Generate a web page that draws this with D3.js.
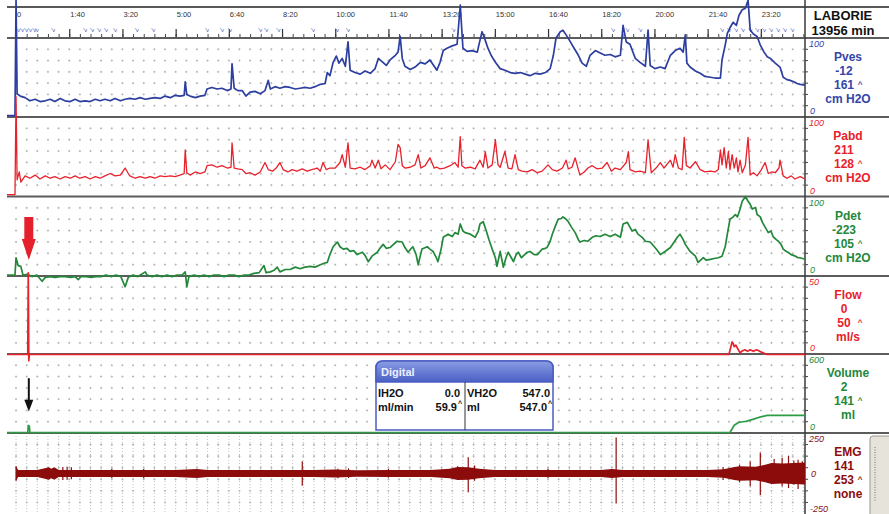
<!DOCTYPE html>
<html>
<head>
<meta charset="utf-8">
<script src="https://cdnjs.cloudflare.com/ajax/libs/d3/7.8.5/d3.min.js"></script>
<style>
  body { margin: 0; background: #fff; }
  svg { display: block; }
  text { font-family: "Liberation Sans", Arial, sans-serif; }
</style>
</head>
<body>
<svg id="chart" width="889" height="514"></svg>
<script>
// ---- data (time in s, values in channel units) ----
const timeTicks = [0, 100, 200, 300, 400, 500, 600, 700, 800, 900, 1000, 1100, 1200, 1300, 1400];
const timeTickLabels = ["0", "1:40", "3:20", "5:00", "6:40", "8:20", "10:00", "11:40", "13:20", "15:00", "16:40", "18:20", "20:00", "21:40", "23:20"];
const eventTimes = [4, 11, 19, 26, 34, 39, 70, 130, 143, 156, 169, 186, 227, 258, 359, 387, 402, 459, 470, 493, 558, 603, 624, 822, 1122, 1149, 1173, 1327, 1340, 1353, 1366, 1380, 1393, 1406, 1419, 1432, 1445, 1459];

const channelNames = ["Pves", "Pabd", "Pdet", "Flow", "Volume", "EMG"];
const channelNow = ["-12", "211", "-223", "0", "2", "141"];
const channelMax = ["161", "128", "105", "50", "141", "253"];
const channelUnits = ["cm H2O", "cm H2O", "cm H2O", "ml/s", "ml", "none"];
const scaleLow = [0, 0, 0, 0, 0, -250];
const scaleHigh = [100, 100, 100, 50, 600, 250];

const pves = [[-17,1],[-2,1],[0,148],[2,29],[8,26],[17,24],[26,20],[36,22],[45,19],[55,20],[64,22],[73,19],[83,23],[92,20],[102,19],[111,22],[120,19],[130,20],[139,19],[149,22],[158,20],[167,22],[177,20],[186,23],[196,20],[205,22],[214,23],[224,22],[233,24],[243,22],[252,23],[261,24],[271,23],[280,26],[290,24],[299,27],[308,26],[316,27],[318,44],[321,28],[327,26],[337,24],[346,26],[355,27],[359,35],[368,37],[378,35],[387,36],[397,33],[404,35],[406,67],[410,36],[417,33],[425,33],[432,26],[440,31],[449,32],[459,29],[468,33],[474,46],[478,35],[487,38],[496,36],[506,38],[515,37],[525,35],[534,36],[543,37],[553,36],[562,38],[572,41],[581,42],[585,56],[590,52],[596,69],[602,77],[607,68],[613,74],[619,64],[624,95],[628,59],[637,56],[647,54],[656,58],[666,55],[675,61],[681,74],[688,70],[696,65],[703,72],[713,78],[718,82],[722,102],[726,74],[731,64],[741,60],[750,63],[760,69],[769,67],[778,72],[786,64],[791,59],[797,69],[803,84],[810,87],[820,90],[829,92],[835,142],[840,87],[848,83],[857,84],[867,82],[872,97],[876,108],[882,97],[887,87],[893,78],[901,69],[910,61],[919,59],[929,56],[938,55],[948,56],[957,54],[966,52],[976,55],[985,54],[995,56],[1004,61],[1010,78],[1015,100],[1023,108],[1028,110],[1034,104],[1042,95],[1049,87],[1057,78],[1064,68],[1072,64],[1079,78],[1089,84],[1098,81],[1107,78],[1117,79],[1126,76],[1136,78],[1141,116],[1147,95],[1154,92],[1164,74],[1173,69],[1183,64],[1188,110],[1192,65],[1201,61],[1211,63],[1220,61],[1230,78],[1239,84],[1248,87],[1254,82],[1258,104],[1261,68],[1267,63],[1277,58],[1286,55],[1295,51],[1305,50],[1314,49],[1324,49],[1327,72],[1333,91],[1337,106],[1342,113],[1348,120],[1354,116],[1359,129],[1365,136],[1371,138],[1376,148],[1380,110],[1386,105],[1393,102],[1399,91],[1406,82],[1412,76],[1418,74],[1427,68],[1436,63],[1442,50],[1449,47],[1455,46],[1463,44],[1468,42],[1474,41],[1483,40]];

const pabd = [[-17,1],[-2,1],[0,126],[2,20],[6,30],[9,17],[17,25],[26,22],[36,26],[45,21],[55,25],[64,22],[73,24],[83,21],[92,24],[102,22],[111,25],[120,22],[130,24],[139,21],[149,24],[158,22],[167,25],[177,28],[186,25],[196,26],[205,35],[211,28],[214,25],[224,22],[233,24],[243,22],[252,24],[261,22],[271,25],[280,24],[290,25],[299,24],[308,26],[316,28],[318,58],[321,29],[327,26],[337,30],[346,28],[355,30],[359,38],[368,39],[378,36],[387,38],[397,35],[404,36],[406,67],[410,35],[417,34],[425,33],[432,28],[440,29],[449,26],[459,30],[468,42],[474,33],[482,31],[489,35],[496,42],[502,33],[511,30],[519,33],[528,31],[538,34],[547,31],[556,33],[566,35],[572,31],[577,42],[583,33],[590,35],[600,35],[609,42],[613,52],[619,36],[624,67],[628,35],[637,34],[647,36],[656,33],[666,38],[669,45],[675,35],[681,45],[686,34],[694,39],[703,33],[713,43],[718,65],[722,61],[726,38],[731,35],[741,36],[750,39],[756,52],[761,35],[769,38],[778,48],[786,35],[791,36],[797,34],[805,35],[816,38],[825,42],[831,36],[835,75],[838,38],[844,35],[854,36],[863,34],[872,45],[878,36],[882,56],[887,35],[895,39],[901,71],[906,39],[910,36],[919,56],[925,35],[932,34],[938,52],[944,33],[951,31],[961,30],[970,33],[980,29],[989,31],[1000,39],[1008,33],[1017,31],[1027,35],[1034,45],[1038,34],[1045,36],[1051,48],[1057,33],[1060,26],[1068,30],[1075,35],[1083,38],[1092,34],[1102,35],[1111,42],[1119,31],[1126,35],[1136,33],[1147,42],[1151,56],[1154,33],[1164,30],[1173,31],[1183,29],[1188,71],[1194,29],[1203,35],[1211,42],[1218,35],[1230,45],[1235,36],[1239,52],[1245,35],[1252,33],[1256,74],[1260,38],[1267,35],[1277,43],[1286,33],[1295,30],[1305,31],[1314,30],[1320,33],[1324,58],[1327,39],[1331,61],[1335,35],[1339,56],[1342,33],[1346,52],[1350,35],[1354,48],[1357,30],[1361,45],[1365,29],[1371,39],[1376,74],[1380,26],[1386,29],[1393,25],[1401,33],[1408,42],[1414,28],[1421,30],[1427,29],[1434,35],[1436,45],[1442,25],[1449,22],[1457,25],[1464,21],[1474,24],[1483,21]];

const pdet = [[-17,0],[-2,0],[0,22],[4,12],[9,11],[13,0],[21,1],[30,-2],[39,0],[49,-8],[55,-3],[64,-2],[73,-3],[83,-2],[92,-2],[102,-3],[111,-2],[117,-6],[122,-2],[132,-2],[141,-3],[150,-2],[160,-2],[169,0],[179,-2],[188,0],[197,-2],[205,-15],[211,-3],[220,0],[229,-2],[243,4],[246,0],[256,-2],[265,0],[274,-2],[284,0],[293,-2],[303,0],[312,0],[318,4],[321,-15],[325,-2],[335,0],[344,-2],[353,0],[363,-2],[372,0],[382,0],[391,-2],[400,0],[410,0],[419,-2],[429,0],[438,0],[447,2],[457,3],[466,12],[470,3],[478,4],[485,6],[491,10],[496,4],[506,7],[515,7],[525,10],[534,8],[543,10],[553,11],[562,10],[572,13],[579,15],[585,16],[590,26],[596,36],[604,42],[609,36],[615,33],[622,34],[628,30],[635,31],[641,26],[651,29],[656,25],[662,17],[669,24],[679,29],[684,34],[690,39],[696,34],[703,35],[711,40],[716,43],[726,42],[731,35],[737,29],[743,34],[746,36],[752,26],[756,13],[760,25],[763,33],[773,36],[778,33],[784,30],[790,22],[793,17],[799,33],[803,48],[812,52],[820,49],[825,54],[831,52],[835,65],[840,56],[844,54],[854,52],[863,48],[869,56],[872,65],[878,68],[884,56],[889,45],[895,33],[901,22],[904,11],[910,30],[916,10],[921,22],[925,29],[931,22],[935,17],[940,26],[944,29],[950,22],[953,24],[961,29],[966,30],[974,26],[980,26],[985,30],[989,33],[995,34],[998,35],[1004,43],[1008,52],[1013,61],[1019,71],[1025,72],[1028,74],[1034,71],[1038,68],[1044,61],[1051,54],[1057,45],[1060,42],[1068,44],[1075,43],[1083,48],[1090,50],[1098,49],[1107,52],[1117,49],[1126,52],[1136,48],[1141,65],[1149,67],[1158,56],[1164,58],[1169,52],[1177,48],[1183,43],[1192,42],[1201,35],[1207,30],[1211,26],[1220,30],[1230,35],[1237,42],[1243,48],[1248,52],[1254,45],[1258,39],[1267,30],[1277,24],[1282,16],[1292,22],[1297,19],[1305,20],[1312,21],[1320,22],[1327,24],[1333,36],[1337,52],[1342,71],[1348,74],[1352,77],[1356,74],[1361,84],[1365,94],[1371,100],[1376,94],[1380,90],[1384,84],[1390,86],[1393,77],[1399,74],[1403,67],[1408,61],[1414,54],[1419,56],[1423,49],[1429,45],[1433,43],[1438,39],[1442,33],[1448,30],[1451,29],[1457,26],[1465,24],[1470,22],[1474,22],[1483,20]];

const flow = [[-17,0],[22,0],[23,52],[24,-4],[25,0],[1340,0],[1346,8],[1348,7],[1350,5],[1353,6],[1356,4],[1361,1],[1364,2],[1370,3],[1375,2],[1380,3],[1386,2],[1392,3],[1398,2],[1405,1],[1412,0],[1483,0]];

const volume = [[-17,0],[22,0],[23,54],[25,50],[26,0],[1342,0],[1350,55],[1358,77],[1366,82],[1372,85],[1385,100],[1400,120],[1412,131],[1483,131]];

const emgTime = [0, 4, 40, 62, 66, 72, 80, 200, 300, 340, 360, 440, 560, 600, 640, 700, 780, 815, 830, 850, 870, 900, 1000, 1100, 1120, 1140, 1200, 1300, 1330, 1350, 1360, 1390, 1410, 1420, 1440, 1483];
const emgAmp  = [45, 22, 22, 38, 30, 38, 22, 22, 22, 28, 22, 22, 22, 25, 20, 22, 22, 30, 40, 38, 30, 22, 22, 22, 28, 22, 22, 22, 26, 40, 45, 42, 55, 65, 62, 68];
const emgSpikes = [[0,45,-45],[88,40,-40],[96,42,-38],[104,38,-36],[180,30,-28],[240,28,-30],[538,75,-75],[605,30,-30],[625,32,-28],[700,28,-26],[830,45,-40],[850,100,-115],[862,50,-45],[1000,30,-28],[1128,222,-185],[1329,40,-40],[1360,55,-55],[1380,75,-80],[1399,130,-135],[1425,90,-60],[1440,95,-80],[1452,110,-90],[1462,80,-70],[1470,85,-95],[1478,75,-60]];

// ---- layout / style ----
const svg = d3.select("#chart");
const plotLeft = 7, plotRight = 805;
const bandTops = [38, 117, 196.5, 276, 354, 433];
const bandHeights = [79, 79.5, 79.5, 78, 79, 81];
const traceColors = ["#2c3e9f", "#e8212b", "#23883a", "#e8212b", "#2f9c45", "#8c0c0c"];
const textColors = ["#3545a8", "#e8212b", "#23883a", "#e8212b", "#23883a", "#8c0c0c"];

const x = d3.scaleLinear().domain([-17, 1483]).range([plotLeft, plotRight]);
const ys = bandTops.map((top, i) => d3.scaleLinear()
  .domain([scaleLow[i], scaleHigh[i]])
  .range(i === 5 ? [top + 81, top] : [top + 78.5, top]));

svg.append("rect").attr("width", 889).attr("height", 514).attr("fill", "#fff");

// grid dots
const gridCols = d3.range(0, 1481, 20);
const gp = d3.path();
bandTops.forEach((top, i) => {
  for (let k = 1; k < 7; k++) {
    const yy = top + k * bandHeights[i] / 7;
    gridCols.forEach(t => {
      const xx = x(t);
      gp.moveTo(xx - 1, yy); gp.lineTo(xx + 1, yy);
      gp.moveTo(xx, yy - 1); gp.lineTo(xx, yy + 1);
    });
  }
});
svg.append("path").attr("d", gp.toString()).attr("stroke", "#b4b4b4").attr("stroke-width", 1).attr("fill", "none");

// EMG dotted verticals
svg.append("g").selectAll("line").data(gridCols).join("line")
  .attr("x1", d => x(d)).attr("x2", d => x(d))
  .attr("y1", bandTops[5] + 3).attr("y2", 514)
  .attr("stroke", "#c2c2c2").attr("stroke-dasharray", "1,2");

// time band
svg.append("line").attr("x1", plotLeft).attr("x2", 889).attr("y1", 7).attr("y2", 7)
  .attr("stroke", "#222").attr("stroke-width", 1.5);

const minorAxis = svg.append("g").attr("transform", "translate(0,38)")
  .call(d3.axisTop(x).tickValues(gridCols).tickSize(4).tickFormat(""));
minorAxis.select(".domain").remove();
minorAxis.selectAll("line").attr("stroke", "#444");

const majorAxis = svg.append("g").attr("transform", "translate(0,38)")
  .call(d3.axisTop(x).tickValues(timeTicks).tickSize(9).tickFormat((d, i) => timeTickLabels[i]));
majorAxis.select(".domain").remove();
majorAxis.selectAll("line").attr("stroke", "#333").attr("stroke-width", 1.2);
majorAxis.selectAll("text")
  .attr("y", -21).attr("dy", 0).attr("x", 0.5)
  .attr("text-anchor", "start")
  .attr("font-size", 7.5).attr("fill", "#333")
  .style("font-family", "'Liberation Sans', Arial, sans-serif");

svg.append("g").selectAll("text").data(eventTimes).join("text")
  .attr("x", d => x(d)).attr("y", 32)
  .attr("text-anchor", "middle").attr("font-size", 6).attr("fill", "#4a5ab8")
  .text("'v");

// separators
svg.append("g").selectAll("line").data(bandTops).join("line")
  .attr("x1", plotLeft).attr("x2", 889)
  .attr("y1", d => d).attr("y2", d => d)
  .attr("stroke", "#5c5c5c").attr("stroke-width", 2);

svg.append("line").attr("x1", plotRight).attr("x2", plotRight).attr("y1", 0).attr("y2", 514)
  .attr("stroke", "#3a3a3a").attr("stroke-width", 1.5);

// right axis ticks
const tp = d3.path();
bandTops.forEach((top, i) => {
  for (let k = 1; k < 7; k++) {
    const yy = top + k * bandHeights[i] / 7;
    tp.moveTo(plotRight, yy); tp.lineTo(plotRight + 3, yy);
  }
});
svg.append("path").attr("d", tp.toString()).attr("stroke", "#444").attr("fill", "none");

// traces
svg.append("clipPath").attr("id", "clip").append("rect")
  .attr("x", plotLeft).attr("y", 0).attr("width", plotRight - plotLeft).attr("height", 514);
const traces = svg.append("g").attr("clip-path", "url(#clip)");

// EMG
const emgEnv = emgTime.map((t, i) => [t, emgAmp[i]]);
traces.append("path").datum(emgEnv)
  .attr("d", d3.area().x(d => x(d[0])).y0(d => ys[5](-d[1])).y1(d => ys[5](d[1])))
  .attr("fill", traceColors[5]);
traces.append("g").selectAll("line").data(emgSpikes).join("line")
  .attr("x1", d => x(d[0])).attr("x2", d => x(d[0]))
  .attr("y1", d => ys[5](d[1])).attr("y2", d => ys[5](d[2]))
  .attr("stroke", traceColors[5]).attr("stroke-width", 1.2);

[pves, pabd, pdet, flow, volume].forEach((data, i) => {
  traces.append("path").datum(data)
    .attr("d", d3.line().x(d => x(d[0])).y(d => ys[i](d[1])))
    .attr("fill", "none")
    .attr("stroke", traceColors[i])
    .attr("stroke-width", i === 1 ? 1.3 : 1.7)
    .attr("stroke-linejoin", "round");
});

// arrows
const ax = x(24);
svg.append("path")
  .attr("d", `M${ax - 4.5},${ys[2](74)} H${ax + 4.5} V${ys[2](46)} H${ax + 7} L${ax},${ys[2](19)} L${ax - 7},${ys[2](46)} H${ax - 4.5} Z`)
  .attr("fill", "#e3202b");
svg.append("line").attr("x1", ax).attr("x2", ax).attr("y1", ys[4](415)).attr("y2", ys[4](230))
  .attr("stroke", "#111").attr("stroke-width", 2);
svg.append("path")
  .attr("d", `M${ax - 4.5},${ys[4](250)} L${ax + 4.5},${ys[4](250)} L${ax},${ys[4](160)} Z`)
  .attr("fill", "#111");

// right labels
svg.append("text").attr("x", 843).attr("y", 20).attr("text-anchor", "middle")
  .attr("font-size", 13).attr("font-weight", "bold").attr("fill", "#111").text("LABORIE");
svg.append("text").attr("x", 843).attr("y", 35).attr("text-anchor", "middle")
  .attr("font-size", 13).attr("font-weight", "bold").attr("fill", "#111").text("13956 min");

channelNames.forEach((name, i) => {
  const top = bandTops[i];
  const bottom = i === 5 ? 514 : top + bandHeights[i];
  const g = svg.append("g").attr("fill", textColors[i]).attr("font-weight", "bold").attr("font-size", 12);
  g.append("text").attr("x", 848).attr("y", top + 23).attr("text-anchor", "middle").text(name);
  g.append("text").attr("x", 844).attr("y", top + 37).attr("text-anchor", "middle").text(channelNow[i]);
  g.append("text").attr("x", 844).attr("y", top + 51).attr("text-anchor", "middle").text(channelMax[i]);
  g.append("text").attr("x", 860).attr("y", top + 49).attr("text-anchor", "middle").attr("font-size", 8).text("^");
  g.append("text").attr("x", 848).attr("y", top + 65).attr("text-anchor", "middle").text(channelUnits[i]);

  const a = svg.append("g").attr("fill", textColors[i]).attr("font-style", "italic").attr("font-size", 9);
  a.append("text").attr("x", 809).attr("y", top + 9).text(scaleHigh[i]);
  a.append("text").attr("x", 810).attr("y", i === 5 ? 512 : bottom - 3).text(scaleLow[i]);
  if (i === 5) a.append("text").attr("x", 811).attr("y", ys[5](0) + 3).text("0");
});

// scroll control
svg.append("rect").attr("x", 870).attr("y", 436).attr("width", 24).attr("height", 82).attr("rx", 3)
  .attr("fill", "#e6e3da").attr("stroke", "#9c988d");
svg.append("line").attr("x1", 875).attr("x2", 875).attr("y1", 447).attr("y2", 501)
  .attr("stroke", "#777").attr("stroke-dasharray", "1,1.5");

// digital box
const bx = 376, by = 361, bw = 177, bh = 69, hh = 21, r = 7;
const defs = svg.append("defs");
const grad = defs.append("linearGradient").attr("id", "hdr").attr("x1", 0).attr("x2", 0).attr("y1", 0).attr("y2", 1);
grad.append("stop").attr("offset", 0).attr("stop-color", "#8a9de3");
grad.append("stop").attr("offset", 1).attr("stop-color", "#4a5fc4");
const roundTop = h => `M${bx},${by + h} V${by + r} Q${bx},${by} ${bx + r},${by} H${bx + bw - r} Q${bx + bw},${by} ${bx + bw},${by + r} V${by + h} Z`;
svg.append("path").attr("d", roundTop(bh)).attr("fill", "#fff").attr("stroke", "#4a5cc2").attr("stroke-width", 1.5);
svg.append("path").attr("d", roundTop(hh)).attr("fill", "url(#hdr)").attr("stroke", "#4a5cc2").attr("stroke-width", 1.5);
svg.append("text").attr("x", bx + 5).attr("y", by + 15).attr("fill", "#eef0ff")
  .attr("font-size", 11).attr("font-weight", "bold").text("Digital");
svg.append("line").attr("x1", 465).attr("x2", 465).attr("y1", by + hh).attr("y2", by + bh)
  .attr("stroke", "#333").attr("stroke-width", 1);
const dg = svg.append("g").attr("font-size", 11).attr("font-weight", "bold").attr("fill", "#111");
dg.append("text").attr("x", 378).attr("y", by + 36).text("IH2O");
dg.append("text").attr("x", 460).attr("y", by + 36).attr("text-anchor", "end").text("0.0");
dg.append("text").attr("x", 467).attr("y", by + 36).text("VH2O");
dg.append("text").attr("x", 550).attr("y", by + 36).attr("text-anchor", "end").text("547.0");
dg.append("text").attr("x", 378).attr("y", by + 50).text("ml/min");
dg.append("text").attr("x", 457).attr("y", by + 50).attr("text-anchor", "end").text("59.9");
dg.append("text").attr("x", 458).attr("y", by + 45).attr("font-size", 7).text("^");
dg.append("text").attr("x", 467).attr("y", by + 50).text("ml");
dg.append("text").attr("x", 547).attr("y", by + 50).attr("text-anchor", "end").text("547.0");
dg.append("text").attr("x", 548).attr("y", by + 45).attr("font-size", 7).text("^");
</script>
</body>
</html>
